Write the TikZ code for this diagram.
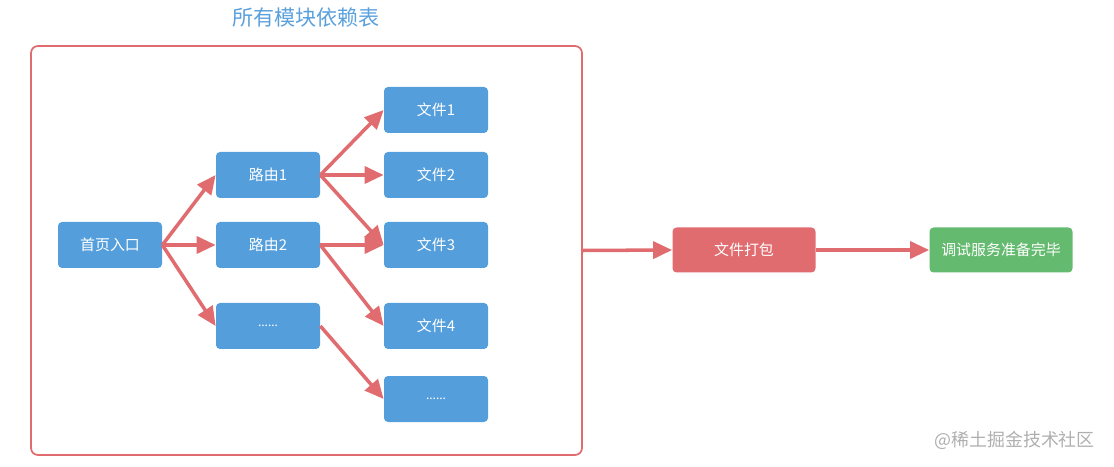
\documentclass[tikz,border=0pt]{standalone}
\usepackage{fontspec}
\newfontfamily\cjk{Noto Sans CJK SC}
\newfontfamily\latin{Noto Sans}
\usepackage{tikz}
\usetikzlibrary{arrows.meta}
\definecolor{modblue}{RGB}{84,158,220}
\definecolor{modred}{RGB}{224,108,112}
\definecolor{modgreen}{RGB}{100,187,111}
\definecolor{titleblue}{RGB}{90,160,220}
\definecolor{markgrey}{RGB}{175,175,175}
\tikzset{
  link/.style={-{Triangle[length=0.38cm,width=0.34cm]}, line width=2pt, draw=modred},
  box/.style={
    rounded corners=2.3pt,
    text=white,
    align=center,
    inner sep=0pt,
    font=\cjk\fontsize{8.5}{10}\selectfont
  },
  bluebox/.style={box, fill=modblue, minimum width=2.08cm, minimum height=0.92cm},
  redbox/.style={box, fill=modred, minimum width=2.86cm, minimum height=0.90cm},
  greenbox/.style={box, fill=modgreen, minimum width=2.86cm, minimum height=0.90cm},
  framebox/.style={draw=modred, line width=1pt, rounded corners=4pt,
    minimum width=11.02cm, minimum height=8.18cm, inner sep=0pt}
}
\begin{document}
\begin{tikzpicture}
  \useasboundingbox (0,0) rectangle (22.28,9.32);
  % module table
  \node[framebox] (deps) at (6.13,4.31) {};
  \node[font=\cjk\fontsize{12}{14}\selectfont,text=titleblue] (title) at (6.12,8.96) {所有模块依赖表};
  \node[bluebox] (home) at (2.20,4.42) {首页入口};
  \node[bluebox] (route1) at (5.36,5.82) {路由1};
  \node[bluebox] (route2) at (5.36,4.42) {路由2};
  \node[bluebox] (routex) at (5.36,2.80) {\latin\fontsize{7}{8}\selectfont ......};
  \node[bluebox] (file1) at (8.72,7.12) {文件1};
  \node[bluebox] (file2) at (8.72,5.82) {文件2};
  \node[bluebox] (file3) at (8.72,4.42) {文件3};
  \node[bluebox] (file4) at (8.72,2.80) {文件4};
  \node[bluebox] (filex) at (8.72,1.34) {\latin\fontsize{7}{8}\selectfont ......};
  \foreach \a/\b in {home/route1,home/route2,home/routex,route1/file1,route1/file2,route1/file3,route2/file3,route2/file4,routex/filex}{
    \draw[link] (\a.east) -- (\b.west);
  }
  % build steps
  \node[redbox] (pack) at (14.88,4.32) {文件打包};
  \node[greenbox] (done) at (20.02,4.32) {调试服务准备完毕};
  \draw[link] (deps.east) -- (pack.west);
  \draw[link] (pack.east) -- (done.west);
  \node[anchor=east,font=\cjk\fontsize{10.2}{12}\selectfont,text=markgrey] (mark) at (22.02,0.52) {@稀土掘金技术社区};
\end{tikzpicture}
\end{document}
